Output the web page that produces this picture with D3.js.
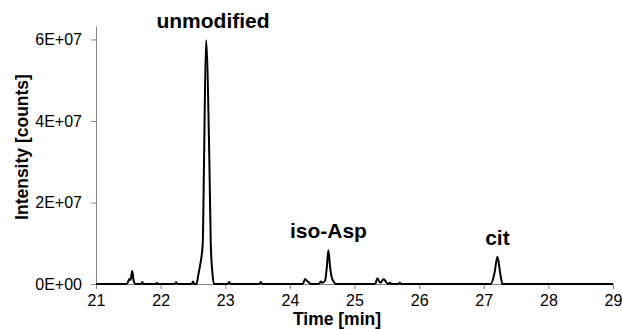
<!DOCTYPE html>
<html>
<head>
<meta charset="utf-8">
<script src="https://cdn.jsdelivr.net/npm/d3@7"></script>
<style>
  body { margin: 0; background: #fff; }
  svg { display: block; font-family: Arial, "Liberation Sans", sans-serif; }
</style>
</head>
<body>
<script>
// chromatogram trace, time in minutes, intensity in counts
var times = [
    21.00, 21.48, 21.515, 21.535, 21.56, 21.585, 21.61,
    21.70, 21.717, 21.735, 21.92, 21.94, 21.96,
    22.22, 22.24, 22.26, 22.48, 22.50, 22.52,
    22.555, 22.583, 22.61, 22.63, 22.652, 22.672, 22.703, 22.754, 22.776, 22.80, 22.826,
    23.04, 23.06, 23.08, 23.53, 23.55, 23.57,
    24.20, 24.235, 24.27, 24.30, 24.33,
    24.45, 24.478, 24.50, 24.545, 24.572, 24.596, 24.622, 24.65, 24.67, 24.71,
    25.32, 25.354, 25.40, 25.45, 25.50, 25.53, 25.55, 25.57, 25.68, 25.70, 25.72,
    27.11, 27.165, 27.212, 27.255, 27.29, 29.00
];
var intensity = [
    0, 0, 1.2e6, 1.0e6, 3.2e6, 0.6e6, 0,
    0, 0.5e6, 0, 0, 0.25e6, 0,
    0, 0.4e6, 0, 0, 0.6e6, 0,
    0, 2.2e6, 4.5e6, 6.4e6, 10e6, 30.4e6, 59.8e6, 30.4e6, 10e6, 3e6, 0,
    0, 0.5e6, 0, 0, 0.5e6, 0,
    0, 1.2e6, 0.7e6, 0.3e6, 0,
    0, 0.6e6, 0.3e6, 0.8e6, 4.2e6, 8.3e6, 4.2e6, 1.5e6, 0.8e6, 0,
    0, 1.4e6, 0.3e6, 1.15e6, 0.3e6, 0, 0.3e6, 0, 0, 0.3e6, 0,
    0, 2.6e6, 6.7e6, 2.6e6, 0, 0
];

var xTicks = [21, 22, 23, 24, 25, 26, 27, 28, 29];
var yTicks = [0, 2e7, 4e7, 6e7];
var yTickLabels = ['0E+00', '2E+07', '4E+07', '6E+07'];

// peak labels, placed above the apex
var peakNames = ['unmodified', 'iso-Asp', 'cit'];
var peakTimes = [22.703, 24.596, 27.212];
var peakHeights = [59.8e6, 8.3e6, 6.7e6];
var peakShift = [7, 0, 0];

var width = 622, height = 329;
var svg = d3.select('body').append('svg')
    .attr('width', width)
    .attr('height', height);

var x = d3.scaleLinear().domain([21, 29]).range([96, 613]);
var y = d3.scaleLinear().domain([0, 6.33e7]).range([284, 26]);

var axisColor = '#868686';
var font = 'Arial, "Liberation Sans", sans-serif';

// y axis
var yAxis = svg.append('g')
    .attr('transform', 'translate(96,0)')
    .call(d3.axisLeft(y).tickValues(yTicks)
        .tickFormat(function(d, i){ return yTickLabels[i]; })
        .tickSize(5).tickSizeOuter(0).tickPadding(9));
yAxis.selectAll('path, line').attr('stroke', axisColor);
yAxis.selectAll('text').attr('font-size', 16).attr('fill', '#000')
    .attr('font-family', font);

// x axis
var xAxis = svg.append('g')
    .attr('transform', 'translate(0,284)')
    .call(d3.axisBottom(x).tickValues(xTicks)
        .tickFormat(d3.format('d'))
        .tickSize(5).tickSizeOuter(0).tickPadding(6));
xAxis.selectAll('path, line').attr('stroke', axisColor);
xAxis.selectAll('text').attr('font-size', 16).attr('fill', '#000')
    .attr('font-family', font);

// trace
var pts = times.map(function(t, i){ return [t, intensity[i]]; });
var line = d3.line()
    .x(function(d){ return x(d[0]); })
    .y(function(d){ return y(d[1]); })
    .curve(d3.curveMonotoneX);
svg.append('path')
    .datum(pts)
    .attr('d', line)
    .attr('fill', 'none')
    .attr('stroke', '#000')
    .attr('stroke-width', 2)
    .attr('stroke-linejoin', 'round');

// peak labels
peakNames.forEach(function(name, i){
    svg.append('text')
        .attr('x', x(peakTimes[i]) + peakShift[i])
        .attr('y', y(peakHeights[i]) - 12)
        .attr('text-anchor', 'middle')
        .attr('font-size', 21)
        .attr('font-weight', 'bold')
        .text(name);
});

// axis titles
svg.append('text')
    .attr('transform', 'translate(28,147) rotate(-90)')
    .attr('text-anchor', 'middle')
    .attr('font-size', 17.5)
    .attr('font-weight', 'bold')
    .text('Intensity [counts]');

svg.append('text')
    .attr('x', 337)
    .attr('y', 325)
    .attr('text-anchor', 'middle')
    .attr('font-size', 17.5)
    .attr('font-weight', 'bold')
    .text('Time [min]');
</script>
</body>
</html>
